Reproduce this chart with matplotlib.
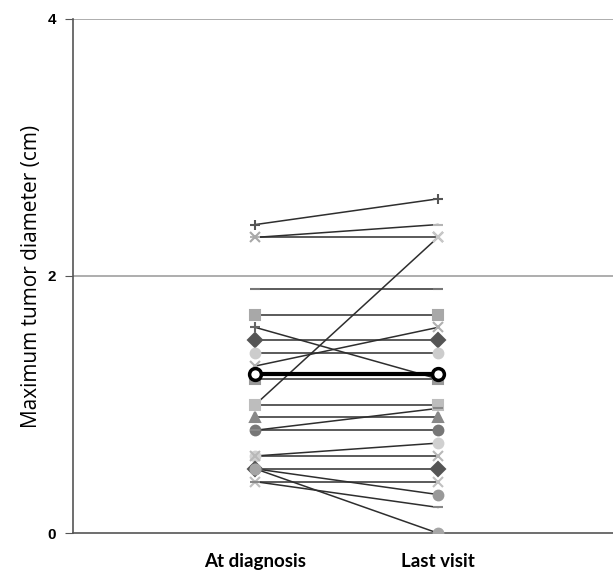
import numpy as np
import matplotlib.pyplot as plt

# values (cm)
timepoints = ["At diagnosis", "Last visit"]
at_diagnosis = [2.4, 2.3, 2.3, 1.9, 1.7, 1.6, 1.5, 1.4, 1.3, 1.2, 1.0,
                1.0, 0.9, 0.8, 0.8, 0.6, 0.6, 0.5, 0.5, 0.5, 0.4, 0.4]
last_visit = [2.6, 2.4, 2.3, 1.9, 1.7, 1.2, 1.5, 1.4, 1.6, 1.2, 2.3,
              1.0, 0.9, 0.8, 0.97, 0.7, 0.6, 0.5, 0.3, 0.0, 0.4, 0.2]
mean_values = [1.24, 1.24]

y_ticks = [0, 2, 4]

# marker style per patient (Excel-like defaults in grey)
markers = ['+', '_', 'x', '_', 's', '+', 'D', 'o', 'x', 's', 'x',
           's', '^', 'o', '_', 'o', 'x', 'D', 'o', 'o', 'x', '_']
mcolors = ['#555555', '#b5b5b5', '#a8a8a8', '#777777', '#a8a8a8', '#666666',
           '#555555', '#cccccc', '#b0b0b0', '#999999', '#c8c8c8', '#bdbdbd',
           '#888888', '#777777', '#888888', '#d0d0d0', '#b8b8b8', '#555555',
           '#999999', '#a5a5a5', '#c0c0c0', '#888888']

fig = plt.figure(figsize=(6.13, 5.72), dpi=100)
ax = fig.add_axes([0.119, 0.068, 0.881, 0.899])

x = np.array([1, 2])

for d, l, m, c in zip(at_diagnosis, last_visit, markers, mcolors):
    ax.plot(x, [d, l], '-', color='#2e2e2e', lw=1.1, zorder=3)
    ax.plot(x, [d, l], linestyle='none', marker=m, markersize=7,
            color=c, markeredgecolor=c, mew=1.5, zorder=4)

# mean line
ax.plot(x, mean_values, '-', color='black', lw=3, zorder=5)
ax.plot(x, mean_values, linestyle='none', marker='o', markersize=8.5,
        markerfacecolor='white', markeredgecolor='black', mew=2.5, zorder=6)

ax.set_xlim(0, 2.96)
ax.set_ylim(0, 4)

# gridlines
for yv in y_ticks[1:]:
    ax.axhline(yv, color='#a0a0a0', lw=1.2, zorder=1)

for side in ['top', 'right']:
    ax.spines[side].set_visible(False)
ax.spines['left'].set_color('#555555')
ax.spines['bottom'].set_color('#555555')
ax.spines['left'].set_linewidth(1.2)
ax.spines['bottom'].set_linewidth(1.2)

ax.set_yticks(y_ticks)
ax.set_yticklabels([str(t) for t in y_ticks], fontsize=11, fontweight='bold',
                   family='Liberation Sans')
ax.tick_params(axis='y', direction='out', length=6, color='#555555', pad=6)

ax.set_xticks(x)
ax.set_xticklabels(timepoints, fontsize=13.5, fontweight='bold', family='Lato')
ax.tick_params(axis='x', length=0, pad=14)

ax.set_ylabel("Maximum tumor diameter (cm)", fontsize=15, family='Open Sans',
              labelpad=4)

fig.savefig("out.png", dpi=100)
